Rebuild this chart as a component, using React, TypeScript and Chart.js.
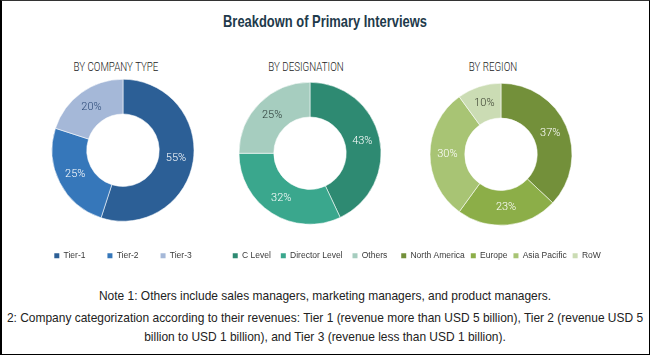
import React, { useEffect, useRef } from "react";
import { Chart, registerables } from "chart.js";
Chart.register(...registerables);

const companyLabels = ["Tier-1", "Tier-2", "Tier-3"];
const companyValues = [55, 25, 20];
const designationLabels = ["C Level", "Director Level", "Others"];
const designationValues = [43, 32, 25];
const regionLabels = ["North America", "Europe", "Asia Pacific", "RoW"];
const regionValues = [37, 23, 30, 10];

const companyColors = ["#2c5f96", "#3677ba", "#a5b8d8"];
const designationColors = ["#2e8a72", "#3aa78d", "#a6cdbf"];
const regionColors = ["#73903a", "#8cae48", "#a8c474", "#cbdcb4"];

const companyTextColors = ["#ffffff", "#ffffff", "#2b4a78"];
const designationTextColors = ["#ffffff", "#ffffff", "#2a3a36"];
const regionTextColors = ["#ffffff", "#ffffff", "#ffffff", "#3a4030"];

const pctPlugin = {
  id: "pct",
  afterDatasetsDraw(chart: any, _args: any, opts: any) {
    const ctx = chart.ctx;
    const meta = chart.getDatasetMeta(0);
    const ds = chart.data.datasets[0];
    ctx.save();
    ctx.font = "300 11px Roboto, 'Liberation Sans', sans-serif";
    ctx.textAlign = "center";
    ctx.textBaseline = "middle";
    meta.data.forEach((arc: any, i: number) => {
      const p = arc.getCenterPoint();
      ctx.fillStyle = (opts.colors && opts.colors[i]) || "#fff";
      ctx.fillText(ds.data[i] + "%", p.x, p.y);
    });
    ctx.restore();
  },
};

type DonutProps = {
  left: number;
  top: number;
  width: number;
  height: number;
  labels: string[];
  values: number[];
  colors: string[];
  textColors: string[];
  pad: number;
};

function Donut(props: DonutProps) {
  const ref = useRef<HTMLCanvasElement>(null);
  useEffect(() => {
    const chart = new Chart(ref.current as HTMLCanvasElement, {
      type: "doughnut",
      data: {
        labels: props.labels,
        datasets: [
          {
            data: props.values,
            backgroundColor: props.colors,
            borderColor: "rgba(255,255,255,0.7)",
            borderWidth: 0.8,
          },
        ],
      },
      options: {
        responsive: false,
        animation: false,
        radius: 71,
        cutout: "51%",
        layout: { padding: 0 },
        plugins: {
          legend: {
            position: "bottom",
            labels: {
              boxWidth: 5,
              boxHeight: 5,
              padding: props.pad,
              color: "#3a3a3a",
              font: { family: "'Liberation Sans', Arial, sans-serif", size: 8.5 },
              generateLabels: (c: any) =>
                (Chart as any).overrides.doughnut.plugins.legend.labels
                  .generateLabels(c)
                  .map((l: any) => ({ ...l, lineWidth: 0, strokeStyle: "rgba(0,0,0,0)" })),
            },
          },
          tooltip: { enabled: false },
          pct: { colors: props.textColors },
        } as any,
      } as any,
      plugins: [pctPlugin as any],
    });
    return () => chart.destroy();
  }, []);
  return (
    <canvas
      ref={ref}
      width={props.width}
      height={props.height}
      style={{ position: "absolute", left: props.left, top: props.top, width: props.width, height: props.height }}
    />
  );
}

const sans = "'Liberation Sans', Arial, sans-serif";

export default function App() {
  return (
    <div
      style={{
        position: "absolute",
        left: 0,
        top: 0,
        width: 650,
        height: 355,
        background: "#fff",
        overflow: "hidden",
      }}
    >
      <div
        style={{
          position: "absolute",
          left: 0,
          top: 12,
          width: 650,
          textAlign: "center",
          fontFamily: sans,
          fontWeight: "bold",
          fontSize: 17,
          lineHeight: "20px",
          color: "#1e3a4b",
          transform: "scaleX(0.76)",
          transformOrigin: "325px 0",
        }}
      >
        Breakdown of Primary Interviews
      </div>
      {[
        { t: "BY COMPANY TYPE", x: 116 },
        { t: "BY DESIGNATION", x: 306 },
        { t: "BY REGION", x: 493 },
      ].map((s) => (
        <div
          key={s.t}
          style={{
            position: "absolute",
            left: s.x - 100,
            top: 59,
            width: 200,
            textAlign: "center",
            fontFamily: "Roboto, 'Liberation Sans', sans-serif",
            fontWeight: 300,
            fontSize: 12.5,
            lineHeight: "16px",
            color: "#222",
            transform: "scaleX(0.78)",
            transformOrigin: "100px 0",
            whiteSpace: "nowrap",
          }}
        >
          {s.t}
        </div>
      ))}
      <Donut
        left={13}
        top={71}
        width={220}
        height={199}
        labels={companyLabels}
        values={companyValues}
        colors={companyColors}
        textColors={companyTextColors}
        pad={22}
      />
      <Donut
        left={215}
        top={65}
        width={190}
        height={205}
        labels={designationLabels}
        values={designationValues}
        colors={designationColors}
        textColors={designationTextColors}
        pad={10}
      />
      <Donut
        left={384}
        top={63}
        width={234}
        height={207}
        labels={regionLabels}
        values={regionValues}
        colors={regionColors}
        textColors={regionTextColors}
        pad={6}
      />
      {[
        { t: "Note 1: Others include sales managers, marketing managers, and product managers.", y: 288 },
        {
          t: "2: Company categorization according to their revenues: Tier 1 (revenue more than USD 5 billion), Tier 2 (revenue USD 5",
          y: 310,
        },
        { t: "billion to USD 1 billion), and Tier 3 (revenue less than USD 1 billion).", y: 329 },
      ].map((n) => (
        <div
          key={n.y}
          style={{
            position: "absolute",
            left: -100,
            top: n.y,
            width: 850,
            textAlign: "center",
            fontFamily: sans,
            fontSize: 13,
            lineHeight: "16px",
            color: "#222",
            whiteSpace: "nowrap",
            transform: "scaleX(0.92)",
            transformOrigin: "425px 0",
          }}
        >
          {n.t}
        </div>
      ))}
      <div
        style={{
          position: "absolute",
          left: 0,
          top: 0,
          width: 650,
          height: 355,
          boxSizing: "border-box",
          borderTop: "1px solid #333",
          borderLeft: "2px solid #000",
          borderRight: "1px solid #000",
          borderBottom: "1px solid #000",
          pointerEvents: "none",
        }}
      />
    </div>
  );
}
